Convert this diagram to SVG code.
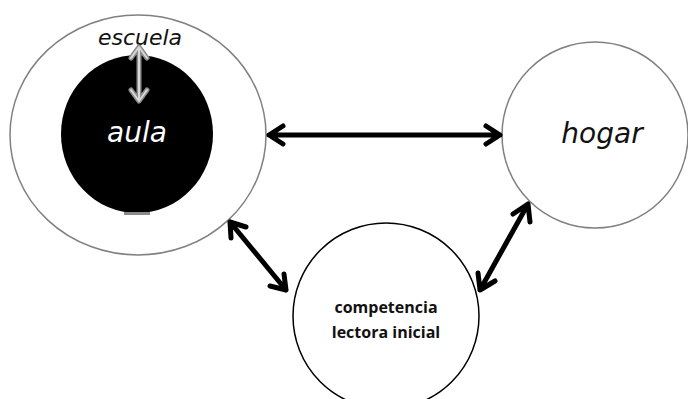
<svg xmlns="http://www.w3.org/2000/svg" width="688" height="399" viewBox="0 0 688 399">
<style>
.ring{fill:#fff;stroke:#808080;stroke-width:1.5}
.ring2{fill:#fff;stroke:#000;stroke-width:1.5}
.hand{font-family:"DejaVu Sans",sans-serif;font-style:oblique;text-anchor:middle}
.lbl{font-family:"Open Sans","Liberation Sans",sans-serif;font-weight:bold;font-size:16px;text-anchor:middle;fill:#111}
.conn{stroke:#000;stroke-width:5;fill:none;stroke-linecap:round;stroke-linejoin:round}
</style>
<rect width="688" height="399" fill="#fff"/>
<g id="escuela">
<ellipse class="ring" cx="138" cy="135" rx="128" ry="120"/>
<text class="hand" x="140" y="45" font-size="22" fill="#111">escuela</text>
</g>
<g id="aula">
<ellipse cx="137" cy="134" rx="76" ry="79" fill="#000"/>
<rect x="124" y="212" width="26" height="3" fill="#8a8a8a"/>
<text class="hand" x="137" y="142" font-size="28" fill="#fff">aula</text>
</g>
<g id="hogar">
<circle class="ring" cx="595" cy="135" r="93"/>
<text class="hand" x="602" y="143" font-size="28" fill="#111">hogar</text>
</g>
<g id="competencia">
<circle class="ring2" cx="386" cy="316" r="93"/>
<text class="lbl" x="386" y="313">competencia</text>
<text class="lbl" x="386" y="338">lectora inicial</text>
</g>
<g id="connectors">
<g stroke="#8c8c8c" stroke-width="5" fill="none" stroke-linecap="round" stroke-linejoin="round">
<path d="M139 48 V100 M131 58 L139 47 L147 58 M131 90 L139 101 L147 90"/>
</g>
<g stroke="#d8d8d8" stroke-width="2" fill="none" stroke-linecap="round" stroke-linejoin="round">
<path d="M139 48 V100 M131 58 L139 47 L147 58 M131 90 L139 101 L147 90"/>
</g>
<path class="conn" d="M269 135 H500 M283 126 L269 135 L283 144 M486 126 L500 135 L486 144"/>
<path class="conn" d="M230 222 L286 290 M231 238 L230 222 L246 227 M270 286 L286 290 L284 274"/>
<path class="conn" d="M528 204 L480 290 M513 214 L528 204 L530 222 M478 273 L480 290 L495 281"/>
</g>
</svg>
